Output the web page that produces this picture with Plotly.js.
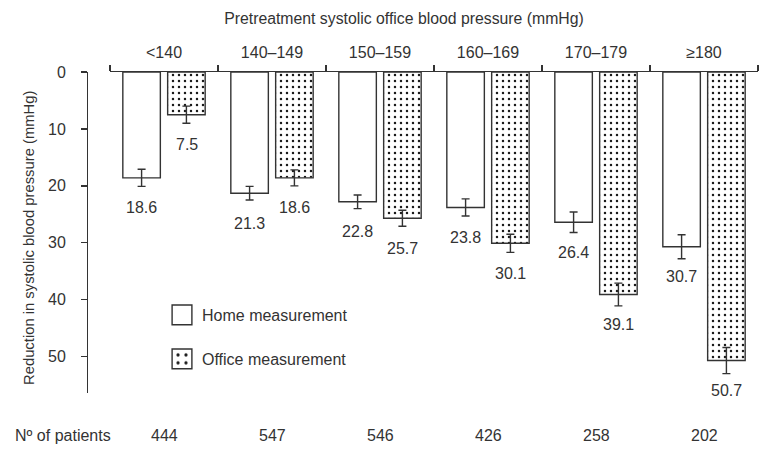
<!DOCTYPE html>
<html>
<head>
<meta charset="utf-8">
<script src="https://cdn.plot.ly/plotly-3.0.1.min.js"></script>
<style>html,body{margin:0;padding:0;background:#fff}</style>
</head>
<body>
<div id="chart" style="width:774px;height:455px"></div>
<script>
var categories = ['<140', '140–149', '150–159', '160–169', '170–179', '≥180'];
var homeValues = [18.6, 21.3, 22.8, 23.8, 26.4, 30.7];
var homeErrors = [1.5, 1.2, 1.2, 1.5, 1.8, 2.1];
var officeValues = [7.5, 18.6, 25.7, 30.1, 39.1, 50.7];
var officeErrors = [1.5, 1.4, 1.4, 1.6, 2.0, 2.3];
var patients = [444, 547, 546, 426, 258, 202];
var yTicks = [0, 10, 20, 30, 40, 50];

var W = 774, H = 455;
var px = function (x) { return x / W; };
var py = function (y) { return 1 - y / H; };
var ink = '#333333';
var font = 'Liberation Sans, Arial, sans-serif';

var home = {
  type: 'bar', name: 'Home measurement', x: categories, y: homeValues,
  marker: { color: '#ffffff', line: { color: ink, width: 1.4 } },
  error_y: { type: 'data', array: homeErrors, visible: true, color: ink, thickness: 1.4, width: 4 },
  legend: 'legend'
};
var office = {
  type: 'bar', name: 'Office measurement', x: categories, y: officeValues,
  marker: { color: '#ffffff', line: { color: ink, width: 1.4 },
    pattern: { shape: '.', fgcolor: '#1a1a1a', bgcolor: '#ffffff', size: 6, solidity: 0.13 } },
  error_y: { type: 'data', array: officeErrors, visible: true, color: ink, thickness: 1.4, width: 4 },
  legend: 'legend2'
};

var annotations = [];
function addValueLabels(values, shift) {
  values.forEach(function (v, i) {
    annotations.push({
      x: categories[i], y: v, xref: 'x', yref: 'y', text: v.toFixed(1),
      xanchor: 'center', yanchor: 'middle',
      showarrow: false, xshift: shift, yshift: -30,
      font: { family: font, size: 16, color: ink }
    });
  });
}
addValueLabels(homeValues, -22.5);
addValueLabels(officeValues, 22.5);
patients.forEach(function (n, i) {
  annotations.push({
    x: categories[i], y: py(435), xref: 'x', yref: 'paper', text: String(n),
    xanchor: 'center', yanchor: 'middle',
    showarrow: false, font: { family: font, size: 16, color: ink }
  });
});
annotations.push({
  x: px(13), y: py(435), xref: 'paper', yref: 'paper', xanchor: 'left', yanchor: 'middle',
  text: 'Nº of patients', showarrow: false, font: { family: font, size: 16, color: ink }
});
annotations.push({
  x: px(29), y: py(238), xref: 'paper', yref: 'paper', textangle: -90,
  xanchor: 'center', yanchor: 'middle',
  text: 'Reduction in systolic blood pressure (mmHg)', showarrow: false,
  font: { family: font, size: 14.8, color: ink }
});

var layout = {
  width: W, height: H,
  margin: { l: 0, r: 0, t: 0, b: 0 },
  paper_bgcolor: '#ffffff', plot_bgcolor: '#ffffff',
  font: { family: font, size: 16, color: ink },
  title: {
    text: 'Pretreatment systolic office blood pressure (mmHg)',
    x: px(404), xref: 'paper', xanchor: 'center', y: py(18), yref: 'container', yanchor: 'middle',
    font: { family: font, size: 15.8, color: ink }
  },
  barmode: 'group', bargap: 0.17, bargroupgap: 0.163,
  xaxis: {
    type: 'category', side: 'top', domain: [px(110), px(758)],
    showline: true, linecolor: ink, linewidth: 1.4,
    ticks: 'outside', tickson: 'boundaries', ticklen: 6, tickwidth: 1.4, tickcolor: ink,
    ticklabelstandoff: 6,
    showgrid: false, zeroline: false, automargin: false,
    tickfont: { family: font, size: 16, color: ink }
  },
  yaxis: {
    domain: [py(393), py(72)], range: [56.4, 0],
    anchor: 'free', position: px(87),
    showline: true, linecolor: ink, linewidth: 1.4,
    ticks: 'outside', ticklen: 6, tickwidth: 1.4, tickcolor: ink,
    tickvals: yTicks, ticklabelstandoff: 12,
    showgrid: false, zeroline: false, automargin: false,
    tickfont: { family: font, size: 16, color: ink }
  },
  showlegend: true,
  legend: { x: px(162), y: py(315), xanchor: 'left', yanchor: 'middle',
    bgcolor: 'rgba(0,0,0,0)', font: { family: font, size: 16, color: ink } },
  legend2: { x: px(162), y: py(359), xanchor: 'left', yanchor: 'middle',
    bgcolor: 'rgba(0,0,0,0)', font: { family: font, size: 16, color: ink } },
  annotations: annotations
};

Plotly.newPlot('chart', [home, office], layout, { displayModeBar: false, staticPlot: true }).then(function (gd) {
  var paths = gd.querySelectorAll('.legendpoints path');
  paths.forEach(function (p) {
    var t = p.getAttribute('transform') || '';
    p.setAttribute('transform', t + ' scale(1.65)');
    p.style.strokeWidth = '0.85px';
  });
});
</script>
</body>
</html>
